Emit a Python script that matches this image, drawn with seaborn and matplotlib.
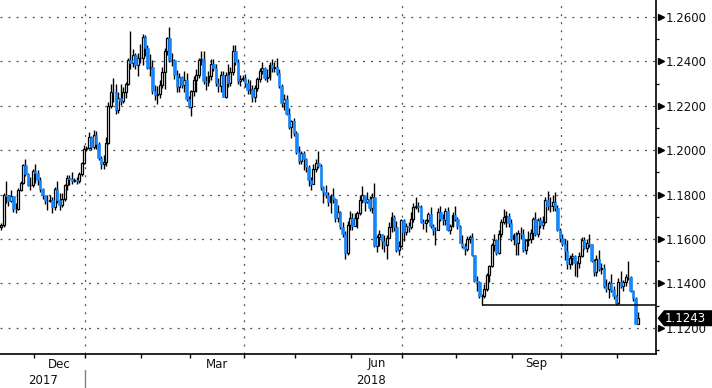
import numpy as np
import pandas as pd
import matplotlib
matplotlib.use("Agg")
import matplotlib.pyplot as plt
import seaborn as sns
from matplotlib.patches import Polygon
from matplotlib.transforms import blended_transform_factory

# ---------------- data (EUR/USD daily candles) ----------------
start_date = "2017-11-13"
end_date = "2018-11-13"
first_open = 1.1655

close = [
    1.1664, 1.1796, 1.1794, 1.1771, 1.1794, 1.1737, 1.1734, 1.1822, 1.1850, 1.1933, 1.1894, 1.1844, 1.1845, 1.1904,
    1.1897, 1.1867, 1.1826, 1.1796, 1.1773, 1.1772, 1.1775, 1.1742, 1.1826, 1.1777, 1.1751, 1.1782, 1.1841, 1.1873, 1.1868, 1.1863, 1.1867, 1.1862, 1.1892, 1.1943, 1.2005,
    1.2008, 1.2059, 1.2015, 1.2068, 1.2030, 1.1967, 1.1937, 1.1946, 1.2033, 1.2198, 1.2263, 1.2262, 1.2180, 1.2237, 1.2222, 1.2262, 1.2299, 1.2407, 1.2394, 1.2427, 1.2383, 1.2414, 1.2414,
    1.2512, 1.2459, 1.2370, 1.2377, 1.2266, 1.2248, 1.2252, 1.2293, 1.2354, 1.2448, 1.2504, 1.2405, 1.2408, 1.2337, 1.2284, 1.2329, 1.2295, 1.2317, 1.2232, 1.2195,
    1.2268, 1.2318, 1.2337, 1.2407, 1.2410, 1.2311, 1.2307, 1.2335, 1.2390, 1.2370, 1.2303, 1.2288, 1.2337, 1.2240, 1.2340, 1.2301, 1.2353, 1.2447, 1.2398, 1.2310, 1.2322, 1.2325,
    1.2302, 1.2270, 1.2276, 1.2239, 1.2281, 1.2320, 1.2355, 1.2369, 1.2327, 1.2330, 1.2382, 1.2372, 1.2375, 1.2347, 1.2288, 1.2211, 1.2232, 1.2163, 1.2103, 1.2130, 1.2078,
    1.1990, 1.1951, 1.1987, 1.1960, 1.1922, 1.1865, 1.1849, 1.1917, 1.1942, 1.1927, 1.1836, 1.1810, 1.1796, 1.1768, 1.1792, 1.1778, 1.1694, 1.1721, 1.1655, 1.1622, 1.1537, 1.1665, 1.1693,
    1.1658, 1.1695, 1.1717, 1.1775, 1.1797, 1.1768, 1.1780, 1.1740, 1.1790, 1.1567, 1.1607, 1.1623, 1.1590, 1.1571, 1.1606, 1.1656, 1.1700, 1.1656, 1.1551, 1.1568, 1.1684,
    1.1633, 1.1657, 1.1654, 1.1688, 1.1745, 1.1749, 1.1742, 1.1676, 1.1670, 1.1684, 1.1711, 1.1659, 1.1641, 1.1640, 1.1721, 1.1692, 1.1686, 1.1728, 1.1640, 1.1657, 1.1708, 1.1691,
    1.1659, 1.1584, 1.1567, 1.1553, 1.1600, 1.1610, 1.1526, 1.1410, 1.1404, 1.1343, 1.1345, 1.1376, 1.1438, 1.1479, 1.1571, 1.1595, 1.1536, 1.1624, 1.1677, 1.1698, 1.1705, 1.1674, 1.1598,
    1.1620, 1.1583, 1.1627, 1.1624, 1.1551, 1.1594, 1.1600, 1.1626, 1.1690, 1.1622, 1.1685, 1.1664, 1.1675, 1.1776, 1.1747, 1.1749, 1.1767, 1.1738, 1.1640, 1.1604,
    1.1578, 1.1548, 1.1486, 1.1513, 1.1524, 1.1490, 1.1491, 1.1523, 1.1596, 1.1561, 1.1580, 1.1576, 1.1500, 1.1452, 1.1510, 1.1463, 1.1470, 1.1389, 1.1376, 1.1401, 1.1372, 1.1341, 1.1313,
    1.1407, 1.1386, 1.1408, 1.1428, 1.1427, 1.1365, 1.1335, 1.1218, 1.1243,
]

high = [
    1.1670, 1.1809, 1.1862, 1.1798, 1.1821, 1.1795, 1.1761, 1.1830, 1.1860, 1.1937, 1.1961, 1.1899, 1.1880, 1.1915,
    1.1940, 1.1910, 1.1880, 1.1830, 1.1800, 1.1800, 1.1800, 1.1791, 1.1833, 1.1862, 1.1806, 1.1809, 1.1846, 1.1888, 1.1890, 1.1900, 1.1875, 1.1880, 1.1902, 1.1948, 1.2022,
    1.2020, 1.2081, 1.2066, 1.2089, 1.2087, 1.2035, 1.1975, 1.1979, 1.2059, 1.2218, 1.2296, 1.2323, 1.2297, 1.2260, 1.2296, 1.2284, 1.2307, 1.2415, 1.2537, 1.2456, 1.2438, 1.2438, 1.2477,
    1.2523, 1.2521, 1.2476, 1.2435, 1.2405, 1.2295, 1.2290, 1.2315, 1.2374, 1.2461, 1.2510, 1.2555, 1.2436, 1.2412, 1.2359, 1.2348, 1.2335, 1.2355, 1.2347, 1.2244,
    1.2273, 1.2336, 1.2365, 1.2414, 1.2446, 1.2445, 1.2335, 1.2355, 1.2412, 1.2413, 1.2387, 1.2325, 1.2355, 1.2355, 1.2350, 1.2389, 1.2373, 1.2475, 1.2476, 1.2412, 1.2338, 1.2338,
    1.2345, 1.2320, 1.2316, 1.2292, 1.2292, 1.2330, 1.2370, 1.2396, 1.2375, 1.2366, 1.2396, 1.2413, 1.2397, 1.2414, 1.2364, 1.2297, 1.2255, 1.2247, 1.2189, 1.2138, 1.2145,
    1.2086, 1.2019, 1.1995, 1.1996, 1.1965, 1.1935, 1.1878, 1.1939, 1.1960, 1.1997, 1.1937, 1.1840, 1.1843, 1.1810, 1.1802, 1.1830, 1.1784, 1.1751, 1.1727, 1.1676, 1.1637, 1.1680, 1.1725,
    1.1715, 1.1718, 1.1727, 1.1796, 1.1840, 1.1793, 1.1810, 1.1795, 1.1809, 1.1852, 1.1617, 1.1642, 1.1623, 1.1620, 1.1618, 1.1676, 1.1720, 1.1710, 1.1679, 1.1591, 1.1692,
    1.1690, 1.1672, 1.1675, 1.1721, 1.1764, 1.1791, 1.1768, 1.1752, 1.1690, 1.1688, 1.1722, 1.1743, 1.1667, 1.1655, 1.1738, 1.1750, 1.1712, 1.1740, 1.1744, 1.1668, 1.1720, 1.1747,
    1.1700, 1.1665, 1.1620, 1.1580, 1.1613, 1.1620, 1.1625, 1.1530, 1.1432, 1.1412, 1.1353, 1.1397, 1.1446, 1.1485, 1.1580, 1.1623, 1.1600, 1.1640, 1.1690, 1.1733, 1.1724, 1.1719, 1.1690,
    1.1625, 1.1630, 1.1640, 1.1656, 1.1644, 1.1602, 1.1637, 1.1646, 1.1700, 1.1722, 1.1693, 1.1697, 1.1703, 1.1787, 1.1815, 1.1790, 1.1797, 1.1812, 1.1752, 1.1651,
    1.1624, 1.1599, 1.1596, 1.1530, 1.1538, 1.1526, 1.1500, 1.1540, 1.1608, 1.1609, 1.1602, 1.1622, 1.1578, 1.1512, 1.1527, 1.1550, 1.1490, 1.1489, 1.1420, 1.1410, 1.1442, 1.1390, 1.1346,
    1.1425, 1.1456, 1.1415, 1.1440, 1.1500, 1.1435, 1.1370, 1.1340, 1.1270,
]

low = [
    1.1640, 1.1652, 1.1764, 1.1750, 1.1768, 1.1722, 1.1715, 1.1730, 1.1814, 1.1848, 1.1885, 1.1840, 1.1822, 1.1834,
    1.1853, 1.1842, 1.1811, 1.1780, 1.1757, 1.1730, 1.1765, 1.1718, 1.1729, 1.1764, 1.1730, 1.1746, 1.1772, 1.1822, 1.1845, 1.1848, 1.1855, 1.1848, 1.1850, 1.1885, 1.1940,
    1.1995, 1.2004, 1.2000, 1.2006, 1.2004, 1.1955, 1.1915, 1.1917, 1.1930, 1.2029, 1.2192, 1.2215, 1.2165, 1.2166, 1.2204, 1.2212, 1.2235, 1.2295, 1.2366, 1.2373, 1.2365, 1.2335, 1.2395,
    1.2385, 1.2424, 1.2365, 1.2335, 1.2255, 1.2225, 1.2206, 1.2236, 1.2280, 1.2275, 1.2430, 1.2398, 1.2380, 1.2320, 1.2260, 1.2262, 1.2278, 1.2260, 1.2221, 1.2190,
    1.2155, 1.2245, 1.2260, 1.2325, 1.2385, 1.2300, 1.2272, 1.2290, 1.2315, 1.2355, 1.2290, 1.2260, 1.2260, 1.2240, 1.2234, 1.2285, 1.2290, 1.2340, 1.2385, 1.2300, 1.2290, 1.2310,
    1.2286, 1.2255, 1.2254, 1.2215, 1.2216, 1.2265, 1.2305, 1.2345, 1.2315, 1.2307, 1.2315, 1.2350, 1.2352, 1.2337, 1.2278, 1.2194, 1.2182, 1.2160, 1.2097, 1.2055, 1.2064,
    1.1983, 1.1937, 1.1938, 1.1911, 1.1900, 1.1838, 1.1821, 1.1847, 1.1901, 1.1920, 1.1822, 1.1763, 1.1786, 1.1750, 1.1716, 1.1763, 1.1676, 1.1677, 1.1646, 1.1610, 1.1510, 1.1527, 1.1640,
    1.1642, 1.1657, 1.1648, 1.1708, 1.1760, 1.1727, 1.1760, 1.1728, 1.1717, 1.1562, 1.1540, 1.1568, 1.1553, 1.1541, 1.1508, 1.1605, 1.1631, 1.1635, 1.1541, 1.1527, 1.1563,
    1.1590, 1.1620, 1.1632, 1.1645, 1.1676, 1.1733, 1.1720, 1.1672, 1.1646, 1.1630, 1.1678, 1.1650, 1.1620, 1.1575, 1.1640, 1.1679, 1.1663, 1.1665, 1.1635, 1.1623, 1.1655, 1.1682,
    1.1647, 1.1581, 1.1561, 1.1530, 1.1545, 1.1581, 1.1523, 1.1405, 1.1364, 1.1336, 1.1301, 1.1335, 1.1365, 1.1405, 1.1475, 1.1545, 1.1529, 1.1534, 1.1608, 1.1668, 1.1652, 1.1653, 1.1589,
    1.1574, 1.1528, 1.1530, 1.1600, 1.1540, 1.1534, 1.1567, 1.1580, 1.1599, 1.1613, 1.1610, 1.1650, 1.1645, 1.1673, 1.1730, 1.1722, 1.1728, 1.1727, 1.1635, 1.1588,
    1.1570, 1.1505, 1.1464, 1.1463, 1.1485, 1.1432, 1.1430, 1.1470, 1.1520, 1.1555, 1.1540, 1.1565, 1.1496, 1.1432, 1.1431, 1.1457, 1.1440, 1.1378, 1.1363, 1.1335, 1.1360, 1.1330, 1.1301,
    1.1306, 1.1380, 1.1365, 1.1386, 1.1413, 1.1360, 1.1320, 1.1216, 1.1215,
]

support_level = 1.1301
support_date = "2018-08-15"
y_major = [1.12, 1.14, 1.16, 1.18, 1.20, 1.22, 1.24, 1.26]
y_minor = [1.11, 1.13, 1.15, 1.17, 1.19, 1.21, 1.23, 1.25]
month_labels = {"2017-12": "Dec", "2018-03": "Mar", "2018-06": "Jun", "2018-09": "Sep"}
year_labels = ["2017", "2018"]

# ---------------- table ----------------
dates = pd.bdate_range(start_date, end_date)
df = pd.DataFrame({"date": dates, "close": close, "high": high, "low": low})
df["open"] = [first_open] + close[:-1]
df["idx"] = np.arange(len(df))
df["month"] = df["date"].dt.strftime("%Y-%m")

# ---------------- style ----------------
sns.set_theme(style="white")
plt.rcParams["font.family"] = ["DejaVu Sans"]
plt.rcParams["lines.scale_dashes"] = False

W, H = 712, 388
fig = plt.figure(figsize=(W / 100, H / 100), dpi=100)
ax_w, ax_h = 656, 354
ax = fig.add_axes([0, (H - ax_h) / H, ax_w / W, ax_h / H])

blue = "#1487ff"
dot = (0, (1.4, 4.4))
grid_col = "#505050"

x_left, x_right = -0.45, 268.4
y_bot, y_top = 1.10818, 1.26766
ax.set_xlim(x_left, x_right)
ax.set_ylim(y_bot, y_top)
px_y = (y_top - y_bot) / ax_h  # data units per pixel (vertical)

# month boundaries
m_first = df.groupby("month")["idx"].min()
m_last = df.groupby("month")["idx"].max()
bounds = (m_first.iloc[1:] - 0.5).values
quarter_months = [m for m in m_first.index if m[5:] in ("01", "04", "07", "10")]
quarter_bounds = [m_first[m] - 0.5 for m in quarter_months]

# grid
for yv in y_major:
    ax.axhline(yv, color=grid_col, lw=0.9, ls=dot, zorder=1)
for xv in quarter_bounds:
    ax.axvline(xv, color=grid_col, lw=0.9, ls=dot, zorder=1)

# candles
ax.vlines(df["idx"], df["low"], df["high"], color="black", lw=1.0, zorder=2)
up = df[df["close"] >= df["open"]]
dn = df[df["close"] < df["open"]]
ax.bar(up["idx"], (up["close"] - up["open"]).clip(lower=0.00005), bottom=up["open"], width=0.8,
       facecolor="white", edgecolor="black", linewidth=0.9, zorder=3)
ax.bar(dn["idx"], dn["open"] - dn["close"], bottom=dn["close"], width=1.0,
       facecolor=blue, edgecolor=blue, linewidth=0.4, zorder=3)

# support line
s_idx = df.loc[df["date"] == pd.Timestamp(support_date), "idx"].iloc[0]
ax.hlines(support_level, s_idx, x_right, color="black", lw=1.1, zorder=4)

# spines
for s in ("top", "left"):
    ax.spines[s].set_visible(False)
ax.spines["right"].set_color("black")
ax.spines["right"].set_linewidth(1.2)
ax.spines["bottom"].set_color("black")
ax.spines["bottom"].set_linewidth(1.2)

# x ticks: month boundaries, no labels
ax.set_xticks(bounds)
ax.set_xticklabels([])
ax.tick_params(axis="x", direction="out", length=3.2, width=1.0, color="black", bottom=True)

tx = blended_transform_factory(ax.transData, ax.transAxes)
for m, lab in month_labels.items():
    cx = (m_first[m] + m_last[m]) / 2
    ax.text(cx, -10 / ax_h, lab, transform=tx, ha="center", va="center", fontsize=8.5, color="#111111")
jan_b = quarter_bounds[0]
ax.text((x_left + jan_b) / 2, -26 / ax_h, year_labels[0], transform=tx, ha="center", va="center",
        fontsize=8.5, color="#111111")
ax.text((jan_b + x_right) / 2, -26 / ax_h, year_labels[1], transform=tx, ha="center", va="center",
        fontsize=8.5, color="#111111")
ax.plot([jan_b, jan_b], [-16 / ax_h, -34 / ax_h], transform=tx, color="#808080", lw=1.0, clip_on=False)

# y axis on right
ax.yaxis.tick_right()
ax.set_yticks(y_major)
ax.set_yticklabels([f"{v:.4f}" for v in y_major])
ax.set_yticks(y_minor, minor=True)
ax.tick_params(axis="y", which="major", length=0, pad=7.0, labelsize=8.5, labelcolor="#111111")
ax.tick_params(axis="y", which="minor", length=2.5, width=0.9, color="black", direction="out", right=True)
ty = blended_transform_factory(ax.transAxes, ax.transData)
ax.plot(np.full(len(y_major), 1 + 4.5 / ax_w), y_major, transform=ty, ls="none", marker=">",
        markersize=4.8, color="black", clip_on=False, zorder=5)

# last price label (black tag with left point)
last = df["close"].iloc[-1]
hx = 1 / ax_w
tag = Polygon([(1 + 1.5 * hx, last), (1 + 8 * hx, last + 8 * px_y), (1 + 60 * hx, last + 8 * px_y),
               (1 + 60 * hx, last - 8 * px_y), (1 + 8 * hx, last - 8 * px_y)],
              closed=True, transform=ty, facecolor="black", edgecolor="none", clip_on=False, zorder=9)
ax.add_patch(tag)
ax.text(1 + 9 * hx, last, f"{last:.4f}", transform=ty, ha="left", va="center", fontsize=8.5,
        color="white", clip_on=False, zorder=10)

fig.savefig("out.png", dpi=100)
